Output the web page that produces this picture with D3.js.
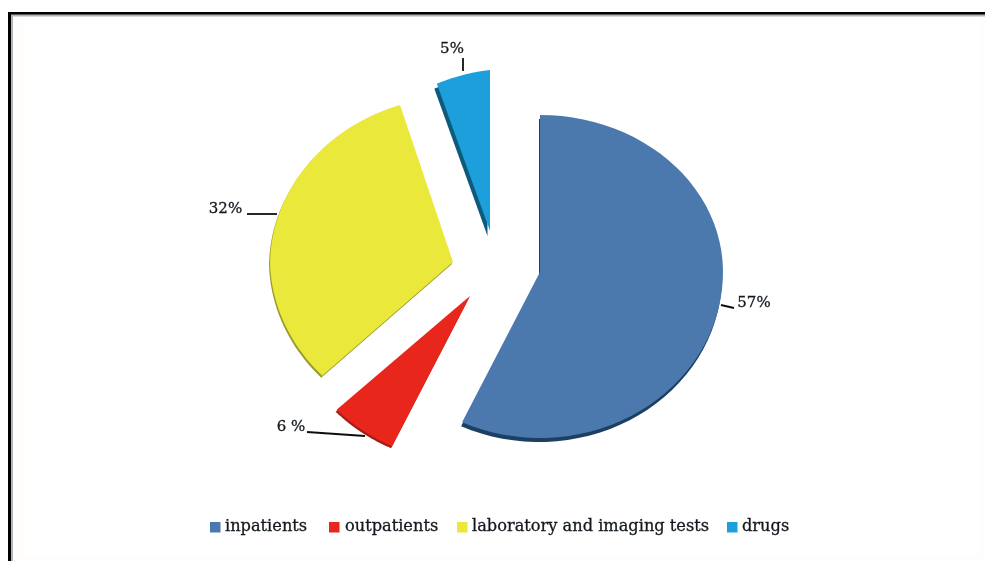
<!DOCTYPE html>
<html><head><meta charset="utf-8">
<script src="https://cdnjs.cloudflare.com/ajax/libs/d3/7.8.5/d3.min.js"></script>
<style>html,body{margin:0;padding:0;background:#fff;overflow:hidden}svg{display:block}
text{font-family:"DejaVu Serif",serif;fill:#14181e;stroke:#14181e;stroke-width:.3px}</style>
</head><body><script>
const categories=["inpatients","outpatients","laboratory and imaging tests","drugs"];
const percents=[57,6,32,5];
const labels=["57%","6 %","32%","5%"];
const faceColors=["#4c78ad","#e8261f","#e9e83a","#1f9fda"];
const sideColors=["#1d3f63","#a51c18","#9a9c2c","#0f5a7c"];
const W=985,H=561;
const svg=d3.select("body").append("svg").attr("width",W).attr("height",H);
const defs=svg.append("defs");
defs.append("filter").attr("id","soft").attr("x","-5%").attr("y","-5%").attr("width","110%").attr("height","110%")
  .append("feGaussianBlur").attr("stdDeviation",0.45);
svg.append("rect").attr("width",W).attr("height",H).attr("fill","#fff");
svg.append("rect").attr("x",13).attr("y",17).attr("width",W-13).attr("height",H-17).attr("fill","#fffdfb");
svg.append("rect").attr("x",25).attr("y",20).attr("width",W-30).attr("height",H-26).attr("fill","#ffffff");
svg.append("path").attr("d",d3.line()([[9.5,H],[9.5,13.5],[W,13.5]])).attr("fill","none").attr("stroke","#000").attr("stroke-width",3);
svg.append("path").attr("d",d3.line()([[12,H],[12,15.5],[W,15.5]])).attr("fill","none").attr("stroke","#b4b4b4").attr("stroke-width",2);

const line=d3.line();
const rxs=[183,183,183,172],ryTops=[157,160,165,161],ryBots=[166,166,166,166];
const bow=[0,0,0.023,0],tilt=[0,0,0,-0.11],depths=[4,2,2,5],shifts=[-1,-1,-1,-2.5];
const anchors=[[540,272],[470,296],[453,262],[490,231]];
const arcs=d3.pie().sort(null).value(d=>d)(percents);
const project=(a,i)=>{
  const x=rxs[i]*Math.sin(a),y=-Math.cos(a)*(Math.cos(a)>0?ryTops[i]:ryBots[i]);
  return [anchors[i][0]+x+bow[i]*Math.abs(y),anchors[i][1]+y+tilt[i]*x];
};
const outline=(d,i)=>{
  const pts=[anchors[i]];
  d3.range(0,61).forEach(k=>pts.push(project(d3.interpolateNumber(d.startAngle,d.endAngle)(k/60),i)));
  pts.push(anchors[i]);
  return line(pts);
};
const root=svg.append("g").attr("filter","url(#soft)");
const g=root.selectAll("g.slice").data(arcs).join("g").attr("class","slice");
g.append("path").attr("d",outline).attr("fill",(d,i)=>sideColors[i]).attr("transform",(d,i)=>`translate(${shifts[i]},${depths[i]})`);
g.append("path").attr("d",outline).attr("fill",(d,i)=>faceColors[i]);

const leaderPts=[[[721,305],[734,308]],[[365,436],[307,432]],[[277,214],[247,214]],[[463,71],[463,58]]];
root.selectAll("path.leader").data(leaderPts).join("path").attr("class","leader").attr("d",d=>line(d)).attr("fill","none").attr("stroke","#111").attr("stroke-width",1.8);
const labelPos=[[754,302],[291,426],[225.5,208],[452,48]];
root.selectAll("text.lab").data(labels).join("text").attr("class","lab")
 .attr("x",(d,i)=>labelPos[i][0]).attr("y",(d,i)=>labelPos[i][1]).attr("dy","0.35em")
 .attr("text-anchor","middle").attr("font-size",15).text(d=>d);

const legendX=[210,329,457,727],legendTextX=[225,345,472,742];
root.selectAll("rect.key").data(categories).join("rect").attr("class","key")
 .attr("x",(d,i)=>legendX[i]).attr("y",522).attr("width",10.5).attr("height",10.5).attr("fill",(d,i)=>faceColors[i]);
root.selectAll("text.leg").data(categories).join("text").attr("class","leg")
 .attr("x",(d,i)=>legendTextX[i]).attr("y",526).attr("dy","0.32em")
 .attr("font-size",16.2).text(d=>d);
</script></body></html>
